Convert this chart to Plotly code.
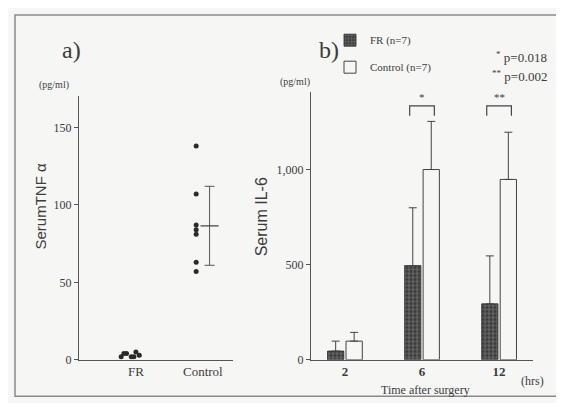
import plotly.graph_objects as go

# ---------------- data ----------------
# Panel a: serum TNF-alpha (pg/ml)
tnf_groups = ["FR", "Control"]
tnf_fr = [2, 4, 2, 5, 3, 4, 2]
tnf_control = [138, 107, 87, 84, 81, 63, 57]
tnf_control_mean = 86.5
tnf_control_sd = 25.5

# Panel b: serum IL-6 (pg/ml)
il6_times = ["2", "6", "12"]
il6_fr = [46, 495, 294]
il6_fr_err = [52, 304, 252]
il6_control = [98, 1000, 948]
il6_control_err = [46, 253, 248]

# ---------------- style / layout helpers ----------------
W, H = 564, 403
BG = "#f6f6f4"
INK = "#3c3c3c"
LINE = "#555555"
SERIF = "Liberation Serif, Times New Roman, serif"
SANS = "Liberation Sans, Arial, sans-serif"

def px(x):
    return x / W

def py(y):
    return 1 - y / H

cat_pos = {"FR": 0, "Control": 1}
fr_dodge = [-0.22, -0.14, -0.07, 0.0, 0.05, -0.18, -0.03]
ctrl_dot_shift = -0.1
ctrl_mean_shift = 0.1

fig = go.Figure()

# ---- panel a ----
fig.add_trace(go.Scatter(
    x=[cat_pos["FR"] + d for d in fr_dodge], y=tnf_fr,
    mode="markers", marker=dict(color="#2a2a2a", size=5),
    xaxis="x", yaxis="y", showlegend=False, cliponaxis=False))
fig.add_trace(go.Scatter(
    x=[cat_pos["Control"] + ctrl_dot_shift] * len(tnf_control), y=tnf_control,
    mode="markers", marker=dict(color="#2a2a2a", size=5),
    xaxis="x", yaxis="y", showlegend=False))
fig.add_trace(go.Scatter(
    x=[cat_pos["Control"] + ctrl_mean_shift], y=[tnf_control_mean],
    mode="markers",
    marker=dict(symbol="line-ew", size=13, line=dict(color="#444", width=1.3)),
    error_y=dict(type="constant", value=tnf_control_sd, color="#555",
                 thickness=1, width=5),
    xaxis="x", yaxis="y", showlegend=False))

# ---- panel b ----
fig.add_trace(go.Bar(
    x=il6_times, y=il6_fr, name="FR (n=7)",
    marker=dict(color="#3a3a3a", line=dict(color="#2a2a2a", width=0.8),
                pattern=dict(shape="+", fgcolor="#b8b8b8", bgcolor="#3a3a3a",
                             size=4, solidity=0.35)),
    error_y=dict(type="data", array=il6_fr_err, arrayminus=[0, 0, 0],
                 symmetric=False, color="#444", thickness=1, width=4),
    xaxis="x2", yaxis="y2", legendgroup="fr"))
fig.add_trace(go.Bar(
    x=il6_times, y=il6_control, name="Control (n=7)",
    marker=dict(color="rgba(255,255,255,0)", line=dict(color="#444", width=1)),
    error_y=dict(type="data", array=il6_control_err, arrayminus=[0, 0, 0],
                 symmetric=False, color="#444", thickness=1, width=4),
    xaxis="x2", yaxis="y2", legendgroup="ctrl"))

axis_common = dict(showline=True, linecolor=LINE, linewidth=1.2, showgrid=False,
                   zeroline=False, ticks="outside", ticklen=4, tickcolor=LINE,
                   tickfont=dict(family=SERIF, size=12, color=INK))

fig.update_layout(
    width=W, height=H, margin=dict(l=0, r=0, t=0, b=0),
    paper_bgcolor=BG, plot_bgcolor="rgba(0,0,0,0)",
    barmode="group", bargap=0.52, bargroupgap=0.12,
    xaxis=dict(axis_common, domain=[px(71), px(225)], range=[-0.85, 1.45],
               tickvals=[cat_pos[g] for g in tnf_groups], ticktext=tnf_groups,
               ticks="", tickfont=dict(family=SERIF, size=13, color=INK)),
    yaxis=dict(axis_common, domain=[py(358), py(90)], range=[0, 170],
               tickvals=[0, 50, 100, 150], anchor="x"),
    xaxis2=dict(axis_common, domain=[px(303), px(525)], range=[-0.44, 2.44],
                type="category", ticks="", anchor="y2",
                tickfont=dict(family=SERIF, size=13, color=INK, weight="bold")),
    yaxis2=dict(axis_common, domain=[py(358), py(85)], range=[0, 1410],
                tickvals=[0, 500, 1000], ticktext=["0", "500", "1,000"],
                anchor="x2"),
    showlegend=True,
    legend=dict(x=px(322), y=py(18), xanchor="left", yanchor="top",
                bgcolor="rgba(0,0,0,0)", tracegroupgap=8,
                font=dict(family=SERIF, size=11, color=INK)),
)

ann = []
def text(x, y, s, size=12, family=SERIF, angle=0, xanchor="center"):
    ann.append(dict(x=px(x), y=py(y), xref="paper", yref="paper", text=s,
                    showarrow=False, textangle=angle, xanchor=xanchor,
                    yanchor="middle", font=dict(family=family, size=size, color=INK)))

text(63, 43, "a)", size=24)
text(321, 43, "b)", size=24)
text(46, 78, "(pg/ml)", size=10)
text(287, 75, "(pg/ml)", size=10)
text(32, 202, "SerumTNF α", size=15, family=SANS, angle=-90)
text(253, 213, "Serum IL-6", size=16, family=SANS, angle=-90)
text(417, 389, "Time after surgery", size=12)
text(524, 380, "(hrs)", size=12)
text(486, 50, "<sup>*</sup> p=0.018", size=13, xanchor="left")
text(482, 69, "<sup>**</sup> p=0.002", size=13, xanchor="left")

# significance markers in data coordinates
for i, star in [(1, "*"), (2, "**")]:
    ann.append(dict(x=i, y=1380, xref="x2", yref="y2", text=star, showarrow=False,
                    font=dict(family=SERIF, size=11, color=INK)))

shapes = []
for i in [1, 2]:
    shapes.append(dict(type="path", xref="x2", yref="y2",
                       path=f"M {i-0.16} 1283 L {i-0.16} 1335 L {i+0.16} 1335 L {i+0.16} 1283",
                       line=dict(color="#444", width=1.2)))
# outer frame of the figure
shapes.append(dict(type="rect", xref="paper", yref="paper",
                   x0=px(7), x1=px(560), y0=py(395), y1=py(7),
                   line=dict(color="#8a8a8a", width=1.5)))

fig.update_layout(annotations=ann, shapes=shapes)
fig.write_html("out.html")
